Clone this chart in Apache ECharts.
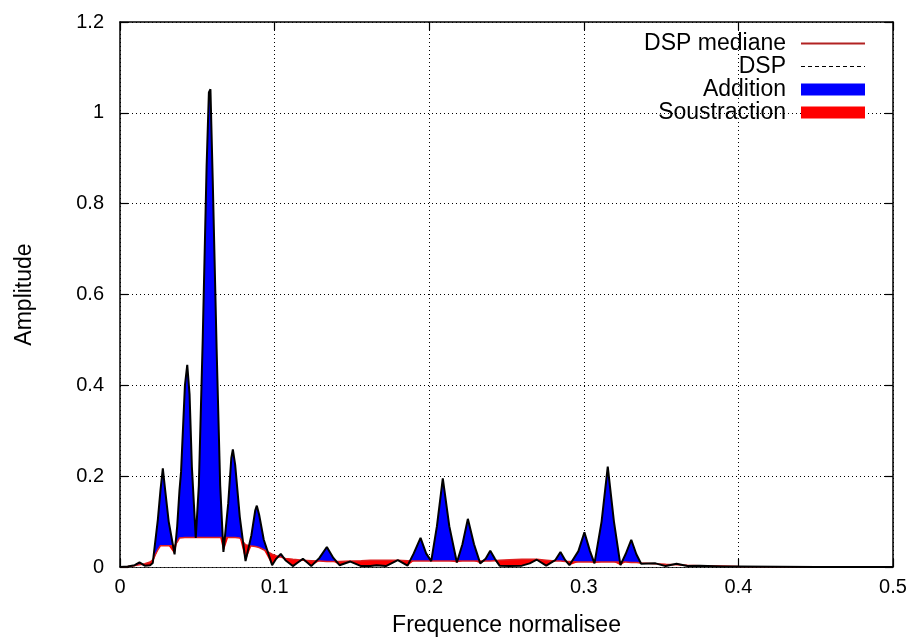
<!DOCTYPE html>
<html>
<head>
<meta charset="utf-8">
<script src="https://cdn.jsdelivr.net/npm/echarts@6/dist/echarts.min.js"></script>
<style>html,body{margin:0;padding:0;background:#fff;}#chart{width:916px;height:642px;}</style>
</head>
<body>
<div id="chart"></div>
<script>
const freq = [0.000,0.005,0.0095,0.0126,0.0160,0.0195,0.0212,0.0245,0.0262,0.0277,0.0292,0.0315,0.0353,0.0370,0.0385,0.0395,0.0420,0.0435,0.0450,0.0465,0.0490,0.0510,0.0535,0.0560,0.0575,0.0585,0.0600,0.0625,0.0648,0.0669,0.0700,0.0720,0.0730,0.0745,0.0775,0.0812,0.0850,0.0875,0.0885,0.0900,0.0930,0.0984,0.1010,0.1040,0.1070,0.1118,0.1150,0.1183,0.1237,0.1290,0.1338,0.1380,0.1420,0.1490,0.1560,0.1620,0.1660,0.1720,0.1797,0.1860,0.1900,0.1944,0.1980,0.2013,0.2050,0.2088,0.2130,0.2179,0.2215,0.2250,0.2290,0.2330,0.2365,0.2395,0.2425,0.2455,0.2520,0.2600,0.2650,0.2696,0.2757,0.2815,0.2849,0.2880,0.2907,0.2965,0.3004,0.3040,0.3069,0.3115,0.3155,0.3195,0.3237,0.3270,0.3307,0.3340,0.3371,0.3464,0.3530,0.3600,0.3670,0.3750,0.3900,0.4000,0.4500,0.5000];
const dsp = [0.000,0.001,0.004,0.010,0.003,0.004,0.009,0.105,0.170,0.217,0.170,0.100,0.028,0.090,0.170,0.210,0.400,0.445,0.380,0.220,0.064,0.180,0.500,0.880,1.045,1.052,0.850,0.480,0.180,0.033,0.140,0.240,0.259,0.225,0.110,0.013,0.070,0.125,0.135,0.115,0.060,0.004,0.018,0.029,0.015,0.002,0.010,0.018,0.002,0.020,0.044,0.020,0.004,0.012,0.002,0.002,0.004,0.002,0.015,0.003,0.030,0.064,0.030,0.013,0.090,0.195,0.090,0.010,0.050,0.106,0.050,0.008,0.018,0.036,0.018,0.003,0.002,0.003,0.008,0.016,0.003,0.015,0.033,0.015,0.004,0.035,0.0765,0.035,0.008,0.100,0.221,0.100,0.004,0.028,0.060,0.028,0.007,0.008,0.002,0.007,0.002,0.003,0.001,0.001,0.000,0.000];
const dspMedian = [0.000,0.001,0.003,0.005,0.007,0.011,0.016,0.038,0.047,0.047,0.047,0.047,0.047,0.055,0.064,0.065,0.065,0.065,0.065,0.065,0.065,0.065,0.065,0.065,0.065,0.065,0.065,0.065,0.065,0.065,0.065,0.065,0.065,0.065,0.064,0.049,0.046,0.045,0.045,0.043,0.038,0.028,0.025,0.022,0.019,0.017,0.016,0.015,0.014,0.013,0.012,0.012,0.012,0.013,0.014,0.015,0.015,0.015,0.015,0.014,0.013,0.013,0.013,0.013,0.013,0.013,0.013,0.013,0.013,0.013,0.013,0.013,0.013,0.013,0.014,0.015,0.016,0.017,0.017,0.017,0.015,0.013,0.013,0.012,0.012,0.011,0.011,0.011,0.011,0.011,0.011,0.011,0.011,0.011,0.010,0.010,0.009,0.007,0.006,0.005,0.004,0.003,0.002,0.001,0.000,0.000];
const xTicks = [0, 0.1, 0.2, 0.3, 0.4, 0.5];
const yTicks = [0, 0.2, 0.4, 0.6, 0.8, 1, 1.2];

const FONT = 'Liberation Sans';
const FS = 20;   // tick labels
const FT = 23;   // titles and legend

const pairs = arr => freq.map((f, i) => [f, arr[i]]);
const lowData = freq.map((f, i) => [f, Math.min(dsp[i], dspMedian[i])]);

const chart = echarts.init(document.getElementById('chart'), null, {renderer: 'canvas'});
const axisCommon = {
  type: 'value',
  axisLine: {show: true, onZero: false, lineStyle: {color: '#000', width: 1.5}},
  axisTick: {show: true, inside: true, length: 8, lineStyle: {color: '#000', width: 1.2}},
};
chart.setOption({
  animation: false,
  backgroundColor: '#fff',
  grid: {left: 120, right: 23, top: 22, bottom: 71, containLabel: false},
  legend: {
    orient: 'vertical', align: 'right', right: 50, top: 32, padding: 0,
    itemWidth: 64, itemHeight: 12, itemGap: 0,
    textStyle: {fontFamily: FONT, fontSize: FT, color: '#000', lineHeight: 23, padding: [0, 10, 0, 0]},
    data: [
      {name: 'DSP mediane', itemStyle: {opacity: 0}, lineStyle: {color: '#b22222', width: 2, type: 'solid'}},
      {name: 'DSP', itemStyle: {opacity: 0}, lineStyle: {color: '#000', width: 1, type: [4, 3]}},
      {name: 'Addition', icon: 'rect', itemStyle: {color: '#0000ff'}},
      {name: 'Soustraction', icon: 'rect', itemStyle: {color: '#ff0000'}}
    ]
  },
  xAxis: [
    Object.assign({}, axisCommon, {
      position: 'bottom', min: xTicks[0], max: xTicks[xTicks.length - 1], interval: xTicks[1] - xTicks[0],
      name: 'Frequence normalisee', nameLocation: 'middle', nameGap: 47,
      nameTextStyle: {fontFamily: FONT, fontSize: FT, color: '#000'},
      axisLabel: {fontFamily: FONT, fontSize: FS, color: '#000', margin: 10},
      splitLine: {show: true, lineStyle: {color: '#000', type: [1, 3], width: 1}}
    }),
    Object.assign({}, axisCommon, {
      position: 'top', min: xTicks[0], max: xTicks[xTicks.length - 1], interval: xTicks[1] - xTicks[0],
      axisLabel: {show: false}, splitLine: {show: false}
    })
  ],
  yAxis: [
    Object.assign({}, axisCommon, {
      position: 'left', min: yTicks[0], max: yTicks[yTicks.length - 1], interval: yTicks[1] - yTicks[0],
      name: 'Amplitude', nameLocation: 'middle', nameGap: 84, nameRotate: 90,
      nameTextStyle: {fontFamily: FONT, fontSize: FT, color: '#000'},
      axisLabel: {fontFamily: FONT, fontSize: FS, color: '#000', margin: 16},
      splitLine: {show: true, lineStyle: {color: '#000', type: [1, 3], width: 1}}
    }),
    Object.assign({}, axisCommon, {
      position: 'right', min: yTicks[0], max: yTicks[yTicks.length - 1], interval: yTicks[1] - yTicks[0],
      axisLabel: {show: false}, splitLine: {show: false}
    })
  ],
  series: [
    {name: 'Addition', type: 'line', data: pairs(dsp), symbol: 'none', color: '#0000ff',
     lineStyle: {width: 0, opacity: 0}, areaStyle: {color: '#0000ff', opacity: 1, origin: 'start'}, z: 1},
    {name: 'Soustraction', type: 'line', data: pairs(dspMedian), symbol: 'none', color: '#ff0000',
     lineStyle: {width: 0, opacity: 0}, areaStyle: {color: '#ff0000', opacity: 1, origin: 'start'}, z: 2},
    {name: 'base', type: 'line', data: lowData, symbol: 'none', silent: true, color: '#ffffff',
     lineStyle: {width: 0, opacity: 0}, areaStyle: {color: '#ffffff', opacity: 1, origin: 'start'}, z: 3},
    {name: 'DSP mediane', type: 'line', data: pairs(dspMedian), symbol: 'none', color: '#b22222',
     lineStyle: {color: '#e02020', width: 1.5}, z: 4},
    {name: 'DSP', type: 'line', data: pairs(dsp), symbol: 'none', color: '#000',
     lineStyle: {color: '#000', width: 2}, z: 5}
  ]
});
</script>
</body>
</html>
